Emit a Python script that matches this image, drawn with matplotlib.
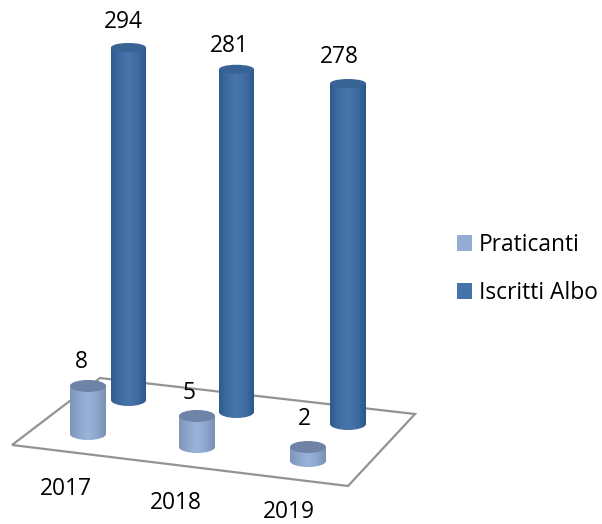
import numpy as np
import matplotlib
matplotlib.use("Agg")
import matplotlib.pyplot as plt
from matplotlib.colors import LinearSegmentedColormap
from matplotlib.patches import Ellipse, Patch, PathPatch, Polygon
from matplotlib.path import Path

years = ["2017", "2018", "2019"]
praticanti = [8, 5, 2]
iscritti = [294, 281, 278]

plt.rcParams["font.family"] = ["Open Sans", "DejaVu Sans"]

W, H = 602, 524
FS = 16.4
fig = plt.figure(figsize=(W / 100, H / 100), dpi=100)
ax = fig.add_axes([0, 0, 1, 1])

# the picture is a fake 3d view, so everything sits on pixel coordinates
floor = [(12, 445), (100, 378), (415, 414), (348, 486)]
ax.add_patch(Polygon(floor, closed=True, fc="white", ec="#939393", lw=1.6, zorder=1))

blue_cmap = LinearSegmentedColormap.from_list("b", ["#305b8e", "#3f6da3", "#4775ac", "#3f6da3", "#2e588a"])
light_cmap = LinearSegmentedColormap.from_list("l", ["#7f95ba", "#8ea7cd", "#9ab3da", "#8ea7cd", "#7a90b4"])
grad = np.linspace(0, 1, 64).reshape(1, -1)


def cylinder(x0, x1, base, height, cmap, top_color, top_ry, zorder):
    cx = (x0 + x1) / 2
    rx = (x1 - x0) / 2
    ry = 6
    top = base - height
    k = 0.5523
    verts = [(x0, top), (x0, base),
             (x0, base + ry * k), (cx - rx * k, base + ry), (cx, base + ry),
             (cx + rx * k, base + ry), (x1, base + ry * k), (x1, base),
             (x1, top), (x0, top)]
    codes = [Path.MOVETO, Path.LINETO, Path.CURVE4, Path.CURVE4, Path.CURVE4,
             Path.CURVE4, Path.CURVE4, Path.CURVE4, Path.LINETO, Path.CLOSEPOLY]
    clip = PathPatch(Path(verts, codes), fc="none", ec="none", transform=ax.transData)
    ax.add_patch(clip)
    im = ax.imshow(grad, extent=(x0, x1, base + ry, top), cmap=cmap, aspect="auto", zorder=zorder)
    im.set_clip_path(clip)
    ax.add_patch(Ellipse((cx, top), x1 - x0, 2 * top_ry, fc=top_color, ec="none", zorder=zorder + 0.1))


blue_x = [(111, 146), (219, 254), (330, 366)]
blue_base = [400, 412, 424]
light_x = [(70, 106), (179, 215), (290, 326)]
light_base = [434, 447, 461]

# bar height in the original is not proportional, a line fits it well enough
blue_scale, blue_offset = 0.75, 132
light_scale, light_offset = 5.67, 2.67

blue_label_x = [123, 229, 339]
blue_label_y = [22, 46, 57]
light_label_x = [81, 189, 304]
light_label_y = [362, 393, 419]
year_x = [66, 176, 289]
year_y = [489, 503, 512]

for i in range(3):
    cylinder(*blue_x[i], blue_base[i], blue_offset + blue_scale * iscritti[i], blue_cmap, "#376395", 4.5, 2)
    ax.text(blue_label_x[i], blue_label_y[i], str(iscritti[i]), fontsize=FS, ha="center", va="center", color="black")

for i in range(3):
    cylinder(*light_x[i], light_base[i], light_offset + light_scale * praticanti[i], light_cmap, "#6e83a6", 6, 3)
    ax.text(light_label_x[i], light_label_y[i], str(praticanti[i]), fontsize=FS, ha="center", va="center", color="black")
    ax.text(year_x[i], year_y[i], years[i], fontsize=FS, ha="center", va="center", color="black")

handles = [Patch(fc="#94add6", label="Praticanti"), Patch(fc="#4673aa", label="Iscritti Albo")]
ax.legend(handles=handles, loc="center left", bbox_to_anchor=(450, 269), bbox_transform=ax.transData,
          frameon=False, fontsize=FS, handlelength=0.68, handleheight=0.68, handletextpad=0.3,
          labelspacing=1.07, borderpad=0.3, borderaxespad=0)

ax.set_xlim(0, W)
ax.set_ylim(H, 0)
ax.axis("off")
fig.savefig("out.png", dpi=100)
